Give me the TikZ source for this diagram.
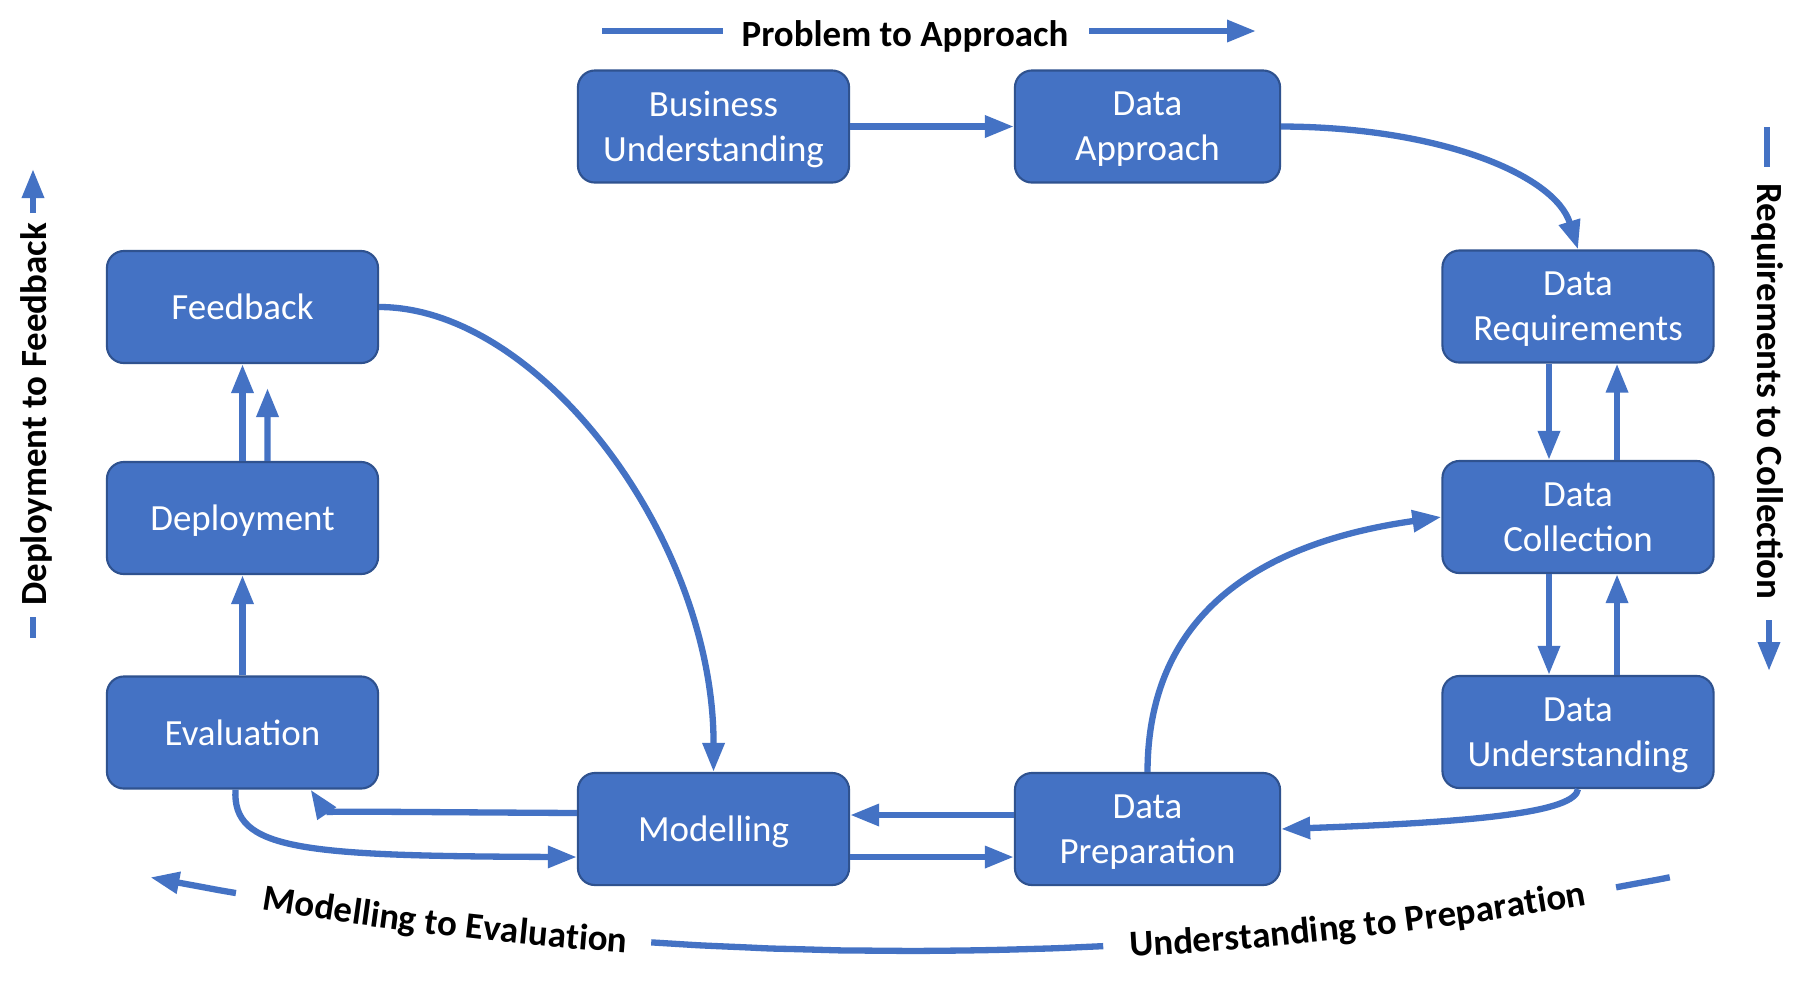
\documentclass[tikz,border=0pt]{standalone}
\usepackage{fontspec}
\setmainfont{Carlito}
\usetikzlibrary{arrows.meta,decorations.text}
\definecolor{boxblue}{HTML}{4472C4}
\definecolor{boxborder}{HTML}{2F528F}
\definecolor{arrowblue}{HTML}{4472C4}
\tikzset{
  stagebox/.style={draw=boxborder, fill=boxblue, rounded corners=0.17cm,
    minimum width=2.71cm, minimum height=1.12cm, text=white, align=center,
    font=\fontsize{10.5}{12.8}\selectfont, inner sep=0pt, line width=0.6pt,
    text depth=0pt},
  narrowbox/.style={stagebox, minimum width=2.65cm},
  flow/.style={draw=arrowblue, line width=0.063cm,
    -{Triangle[length=0.29cm,width=0.21cm]}},
  plainline/.style={draw=arrowblue, line width=0.063cm},
  phase/.style={font=\fontsize{10.5}{12.8}\selectfont\bfseries, text=black, inner sep=0pt}
}
\begin{document}
\begin{tikzpicture}[x=0.01cm,y=-0.01cm]
\useasboundingbox (0,0) rectangle (1806,996);
\fill[white] (0,0) rectangle (1806,996);

% stages
\node[stagebox] (BU) at (713.5,126.5) {Business\\Understanding};
\node[narrowbox] (DA) at (1147.5,126.5) {Data\\Approach};
\node[stagebox] (DR) at (1578,306.5) {Data\\Requirements};
\node[stagebox] (DC) at (1578,517) {Data\\Collection};
\node[stagebox] (DU) at (1578,732) {Data\\Understanding};
\node[narrowbox] (DP) at (1147.5,829) {Data\\Preparation};
\node[stagebox] (MO) at (713.5,829) {Modelling};
\node[stagebox] (EV) at (242.5,732.5) {Evaluation};
\node[stagebox] (DE) at (242.5,518) {Deployment};
\node[stagebox] (FB) at (242.5,307) {Feedback};

% connectors
\draw[flow] (BU.east) -- (DA.west);
\draw[flow] (DA.east) .. controls (1440,127) and (1555,175) .. (DR.north);
\draw[flow] ([xshift=-0.29cm]DR.south) -- ([xshift=-0.29cm]DC.north);
\draw[flow] ([xshift=0.39cm]DC.north) -- ([xshift=0.39cm]DR.south);
\draw[flow] ([xshift=-0.29cm]DC.south) -- ([xshift=-0.29cm]DU.north);
\draw[flow] ([xshift=0.39cm]DU.north) -- ([xshift=0.39cm]DC.south);
\draw[flow] (DU.south) .. controls (1575,812) and (1480,822) .. (DP.east);
\draw[flow] (DP.north) .. controls (1148,600) and (1280,540) .. (DC.west);
\draw[flow] ([yshift=0.14cm]DP.west) -- ([yshift=0.14cm]MO.east);
\draw[flow] ([yshift=-0.28cm]MO.east) -- ([yshift=-0.28cm]DP.west);
\draw[flow] ([yshift=0.16cm]MO.west) .. controls (400,812) and (325,811) .. ([xshift=0.68cm]EV.south);
\draw[flow] ([xshift=-0.07cm]EV.south) .. controls (232,850) and (300,856) .. ([yshift=-0.28cm]MO.west);
\draw[flow] (EV.north) -- (DE.south);
\draw[flow] (DE.north) -- (FB.south);
\coordinate (fbtip) at (267.5,388);
\draw[flow] ([xshift=0.25cm]DE.north) -- (fbtip);
\draw[flow] (FB.east) .. controls (540,307) and (714,540) .. (MO.north);

% top phase label
\node[phase] (ptoa) at (905,36.5) {Problem to Approach};
\coordinate (ptoaA) at (602,31);
\coordinate (ptoaB) at (723,31);
\coordinate (ptoaC) at (1089,31);
\coordinate (ptoaD) at (1256,31);
\draw[plainline] (ptoaA) -- (ptoaB);
\draw[flow] (ptoaC) -- (ptoaD);

% left phase label
\node[phase, rotate=90] (dtof) at (36,414.5) {Deployment to Feedback};
\coordinate (dtofA) at (33,213);
\coordinate (dtofB) at (33,169);
\draw[flow] (dtofA) -- (dtofB);
\coordinate (dtofC) at (33,617);
\coordinate (dtofD) at (33,638);
\draw[plainline] (dtofC) -- (dtofD);

% right phase label
\node[phase, rotate=-90] (rtoc) at (1768,391.5) {Requirements to Collection};
\coordinate (rtocA) at (1767,127);
\coordinate (rtocB) at (1767,167);
\draw[plainline] (rtocA) -- (rtocB);
\coordinate (rtocC) at (1769,620);
\coordinate (rtocD) at (1769,671);
\draw[flow] (rtocC) -- (rtocD);

% bottom arc labels
\draw[flow] plot[domain=99.81:101.07, samples=6, smooth] ({910+3957*cos(\x)},{-3006+3957*sin(\x)});
\draw[plainline] plot[domain=93.75:87.2, samples=20, smooth] ({910+3957*cos(\x)},{-3006+3957*sin(\x)});
\draw[plainline] plot[domain=79.72:78.93, samples=6, smooth] ({910+3957*cos(\x)},{-3006+3957*sin(\x)});
\coordinate (mteA) at (188.9,884.7);
\coordinate (mteB) at (702.9,945.6);
\path[decorate, decoration={text along path, text align=center, raise=-0.12cm,
  text={|\fontsize{10.5}{12.8}\selectfont\bfseries|Modelling to Evaluation}}]
  (mteA) .. controls (358.7,916.2) and (530.4,936.6) .. (mteB);
\coordinate (utpA) at (1082.6,947.2);
\coordinate (utpB) at (1631.1,884.7);
\path[decorate, decoration={text along path, text align=center, raise=-0.12cm,
  text={|\fontsize{10.5}{12.8}\selectfont\bfseries|Understanding to Preparation}}]
  (utpA) .. controls (1266.6,939.2) and (1450.0,918.3) .. (utpB);
\end{tikzpicture}
\end{document}
